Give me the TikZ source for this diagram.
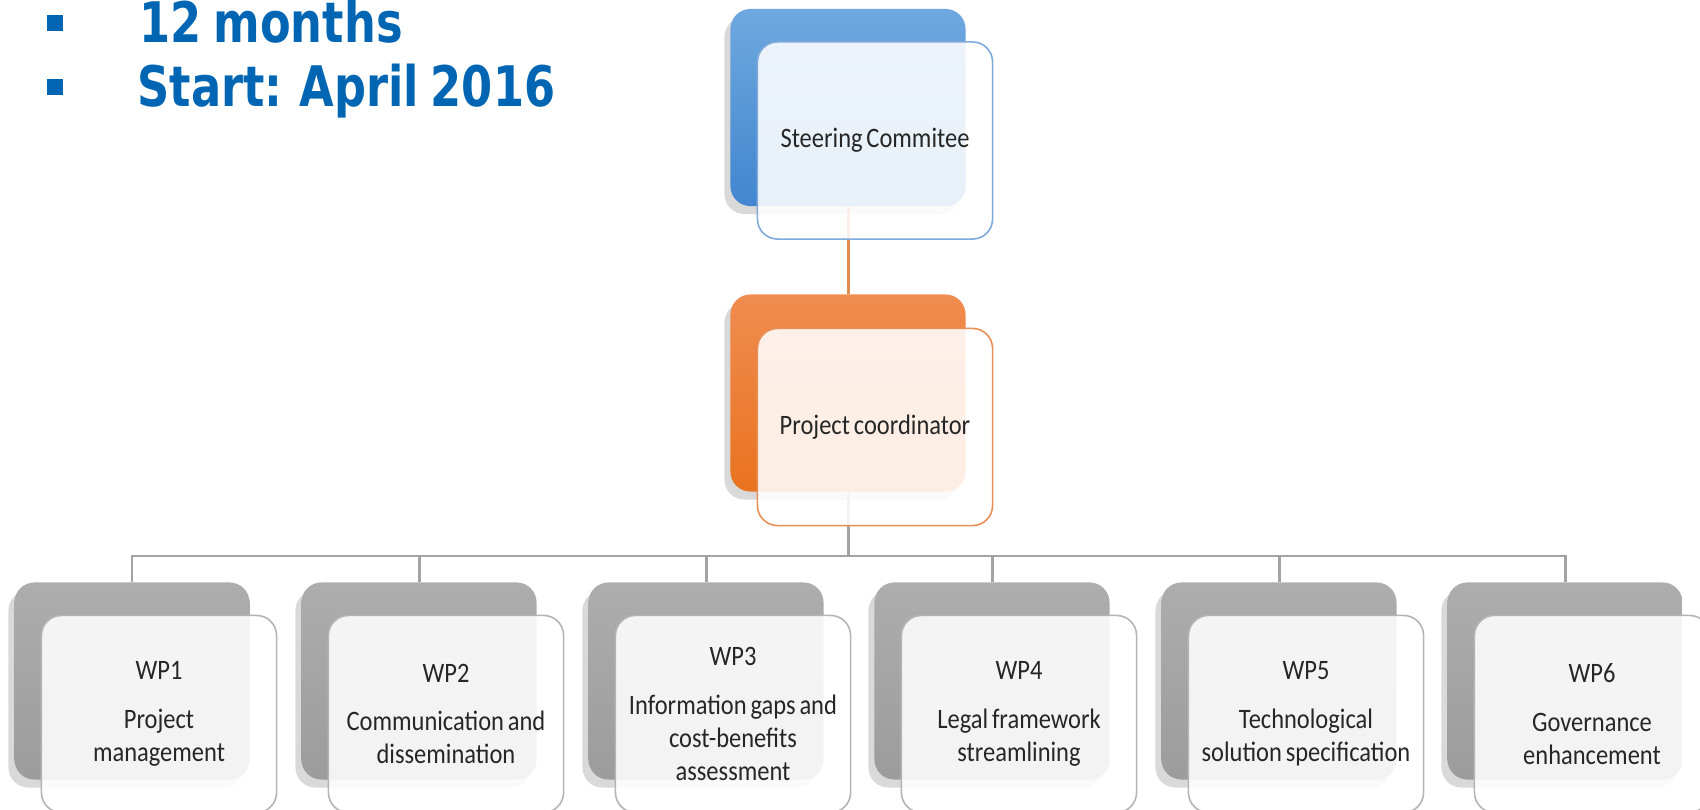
\documentclass[tikz,border=0pt]{standalone}
\usepackage{fontspec}
\usepackage{tikz}
\usetikzlibrary{shadows}
\newfontfamily\headfont[FakeStretch=0.8,WordSpace=0.75]{DejaVu Sans Bold}
\newfontfamily\boxfont[FakeStretch=0.87,WordSpace=0.7]{Carlito}
\definecolor{headblue}{HTML}{0066B3}
\definecolor{bluetop}{HTML}{6FA8DF}
\definecolor{bluebot}{HTML}{4186CF}
\definecolor{blueline}{HTML}{7EA9DA}
\definecolor{orangetop}{HTML}{F08C50}
\definecolor{orangebot}{HTML}{E9731F}
\definecolor{orangeline}{HTML}{E98F55}
\definecolor{greytop}{HTML}{ADADAD}
\definecolor{greybot}{HTML}{9C9C9C}
\definecolor{greyline}{HTML}{B4B4B4}
\definecolor{orangelink}{HTML}{E58A4E}
\definecolor{greylink}{HTML}{A3A3A3}
\definecolor{textgrey}{HTML}{262626}

\begin{document}
\begin{tikzpicture}
[x=0.01cm,y=0.01cm,
bullet/.style={rectangle,fill=headblue,inner sep=0pt,minimum size=0.16cm},
head/.style={inner sep=0pt,text=headblue,font=\headfont\fontsize{15.9pt}{18pt}\selectfont},
back/.style={rectangle,rounded corners=2mm,minimum width=2.35cm,minimum height=1.97cm,inner sep=0pt,
  drop shadow={shadow xshift=-0.6mm,shadow yshift=-0.8mm,opacity=0.3}},
front/.style={rectangle,rounded corners=2mm,minimum width=2.35cm,minimum height=1.97cm,inner sep=0pt,
  line width=0.45pt,fill=white,fill opacity=0.88,text opacity=1,text=textgrey,align=center,
  font=\boxfont\fontsize{8pt}{9.4pt}\selectfont},
blueback/.style={back,top color=bluetop,bottom color=bluebot},
orangeback/.style={back,top color=orangetop,bottom color=orangebot},
greyback/.style={back,top color=greytop,bottom color=greybot},
link/.style={line width=0.85pt}]

\useasboundingbox (0,0) rectangle (1700,809);

\node[bullet] (a) at (55,786) {};
\node[bullet] (b) at (55,722) {};
\node[head,anchor=base west] (A) at (139,766) {12 months};
\node[head,anchor=base west] (B) at (137,702) {Start: April 2016};

\node[blueback] (S0) at (848,701.5) {};
\node[orangeback] (C0) at (848,416) {};

\node[greyback] (W10) at (132,128) {};
\node[greyback] (W20) at (419,128) {};
\node[greyback] (W30) at (706,128) {};
\node[greyback] (W40) at (992,128) {};
\node[greyback] (W50) at (1279,128) {};
\node[greyback] (W60) at (1565,128) {};

\coordinate (bus) at (848,253);

\draw [link,orangelink] (S0) -- (C0);
\draw [link,greylink] (C0) -- (bus);
\draw [link,greylink] (bus) -| (W10) (bus) -| (W20) (bus) -| (W30)
  (bus) -| (W40) (bus) -| (W50) (bus) -| (W60);

\node[front,draw=blueline] (S1) at (875,668.5) {Steering Commitee};
\node[front,draw=orangeline] (C1) at (875,382) {Project coordinator};

\node[front,draw=greyline] (W11) at (159,95) {WP1\\[4.5pt]Project\\management};
\node[front,draw=greyline] (W21) at (446,95) {WP2\\[4.5pt]Communication and\\dissemination};
\node[front,draw=greyline] (W31) at (733,95) {WP3\\[4.5pt]Information gaps and\\cost-benefits\\assessment};
\node[front,draw=greyline] (W41) at (1019,95) {WP4\\[4.5pt]Legal framework\\streamlining};
\node[front,draw=greyline] (W51) at (1306,95) {WP5\\[4.5pt]Technological\\solution specification};
\node[front,draw=greyline] (W61) at (1592,95) {WP6\\[4.5pt]Governance\\enhancement};
\end{tikzpicture}
\end{document}
